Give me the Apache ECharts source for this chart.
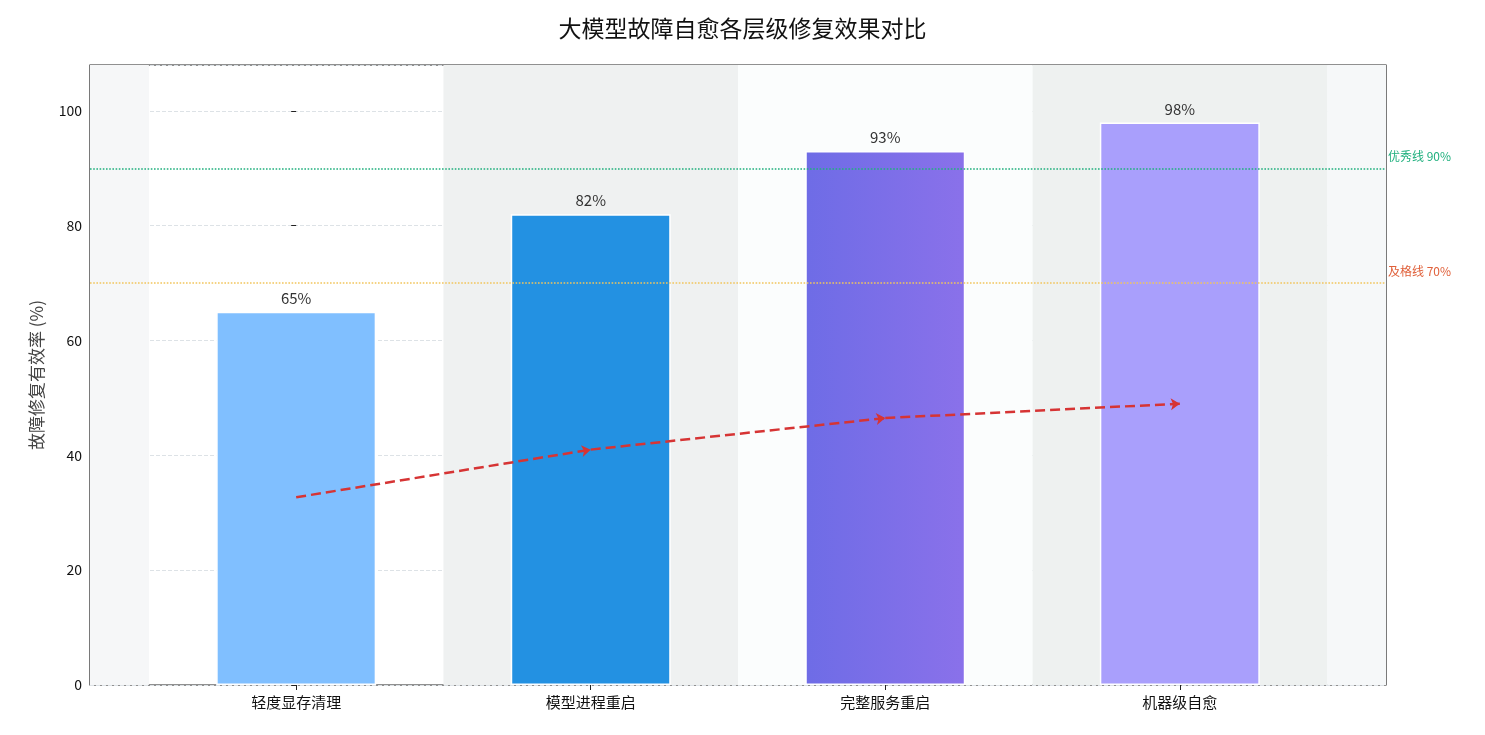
<!DOCTYPE html>
<html><head><meta charset="utf-8">
<script src="https://cdn.jsdelivr.net/npm/echarts@6/dist/echarts.min.js"></script>
<style>html,body{margin:0;padding:0;background:#fff}#c{width:1485px;height:735px}</style>
</head><body><div id="c"></div>
<script>
const categories = ['轻度显存清理','模型进程重启','完整服务重启','机器级自愈'];
const values = [65, 82, 93, 98];
const trendValues = [32.7, 41, 46.5, 49];
const barColors = ['#80bfff','#2391e2',['#6e6ce6','#8a71ea'],'#a99ffc'];
const thresholds = [{v:90,name:'优秀线 90%',color:'#20b07e',labelColor:'#20b07e'},{v:70,name:'及格线 70%',color:'#f2c55c',labelColor:'#e0603a'}];
const F = '"Noto Sans CJK SC", sans-serif';
const chart = echarts.init(document.getElementById('c'));
const barData = values.map((v,i)=>{
  const c = barColors[i];
  const color = Array.isArray(c) ? new echarts.graphic.LinearGradient(0,0,1,0,[{offset:0,color:c[0]},{offset:1,color:c[1]}]) : c;
  return {value:[i,v], itemStyle:{color}};
});
const lineData = [];
for (let i=0;i<trendValues.length-1;i++) lineData.push({coords:[[i,trendValues[i]],[i+1,trendValues[i+1]]]});
chart.setOption({
  animation:false,
  title:{text:'大模型故障自愈各层级修复效果对比',left:'center',top:12,textStyle:{fontFamily:F,fontSize:23,fontWeight:'normal',color:'#111'}},
  grid:{left:90,right:99,top:65,bottom:50,show:true,borderColor:'#222',borderWidth:1.2,backgroundColor:'transparent'},
  xAxis:{type:'value',min:-0.7,max:3.7,splitLine:{show:false},
    axisLine:{show:false},
    axisTick:{show:true,customValues:[0,1,2,3],lineStyle:{color:'#222'}},
    axisLabel:{customValues:[0,1,2,3],formatter:v=>categories[Math.round(v)],fontFamily:F,fontSize:15,color:'#111',margin:10}},
  yAxis:{type:'value',min:0,max:108,interval:20,
    name:'故障修复有效率 (%)',nameLocation:'middle',nameGap:45,nameTextStyle:{fontFamily:F,fontSize:17,color:'#444'},
    axisLine:{show:false},axisTick:{show:true,lineStyle:{color:'#222'}},
    axisLabel:{fontFamily:F,fontSize:14,color:'#111',showMaxLabel:false},
    splitLine:{lineStyle:{type:'dashed',color:'#dde2e6'}}},
  series:[
    {type:'bar',data:barData,barWidth:160,itemStyle:{borderColor:'#fff',borderWidth:1.5},
     label:{show:true,position:'top',formatter:p=>p.value[1]+'%',fontFamily:F,fontSize:15,color:'#333',distance:6},
     markArea:{silent:true,data:[
       [{xAxis:-0.7,itemStyle:{color:'#f6f7f8'}},{xAxis:-0.5}],
       [{xAxis:0.5,itemStyle:{color:'#eff1f1'}},{xAxis:1.5}],
       [{xAxis:1.5,itemStyle:{color:'#fbfdfd'}},{xAxis:2.5}],
       [{xAxis:2.5,itemStyle:{color:'#eef1f0'}},{xAxis:3.5}],
       [{xAxis:3.5,itemStyle:{color:'#f6f8f9'}},{xAxis:3.7}]]},
     markLine:{silent:true,symbol:'none',data:thresholds.map(t=>({yAxis:t.v,lineStyle:{color:t.color,type:'dotted',width:1.6},
       label:{show:true,position:'end',formatter:t.name,color:t.labelColor,fontFamily:F,fontSize:12,distance:2,offset:[0,-12]}}))},
     z:3},
    {type:'lines',coordinateSystem:'cartesian2d',data:lineData,symbol:['none','arrow'],symbolSize:9,
     lineStyle:{color:'#d63434',width:2.5,type:'dashed',opacity:1},z:5}
  ]
});
</script></body></html>
